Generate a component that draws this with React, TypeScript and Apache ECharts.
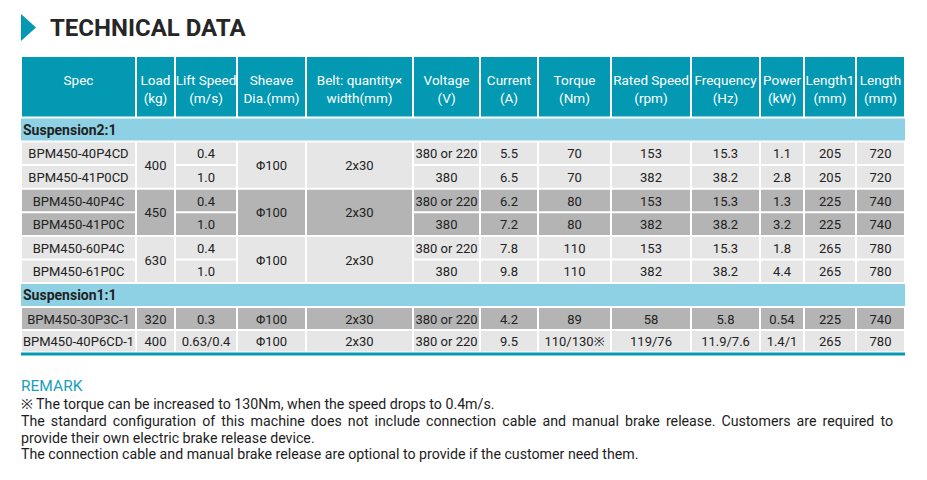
import React, { useEffect, useRef } from "react";
import * as echarts from "echarts";

const TITLE = "TECHNICAL DATA";
const headers = [
  "Spec",
  "Load\n(kg)",
  "Lift Speed\n(m/s)",
  "Sheave\nDia.(mm)",
  "Belt: quantity×\nwidth(mm)",
  "Voltage\n(V)",
  "Current\n(A)",
  "Torque\n(Nm)",
  "Rated Speed\n(rpm)",
  "Frequency\n(Hz)",
  "Power\n(kW)",
  "Length1\n(mm)",
  "Length\n(mm)",
];
const groups = ["Suspension2:1", "Suspension1:1"];
const specs = [
  "BPM450-40P4CD",
  "BPM450-41P0CD",
  "BPM450-40P4C",
  "BPM450-41P0C",
  "BPM450-60P4C",
  "BPM450-61P0C",
  "BPM450-30P3C-1",
  "BPM450-40P6CD-1",
];
const loads = ["400", "400", "450", "450", "630", "630", "320", "400"];
const liftSpeeds = ["0.4", "1.0", "0.4", "1.0", "0.4", "1.0", "0.3", "0.63/0.4"];
const sheaves = ["Φ100", "Φ100", "Φ100", "Φ100", "Φ100", "Φ100", "Φ100", "Φ100"];
const belts = ["2x30", "2x30", "2x30", "2x30", "2x30", "2x30", "2x30", "2x30"];
const voltages = ["380 or 220", "380", "380 or 220", "380", "380 or 220", "380", "380 or 220", "380 or 220"];
const currents = ["5.5", "6.5", "6.2", "7.2", "7.8", "9.8", "4.2", "9.5"];
const torques = ["70", "70", "80", "80", "110", "110", "89", "110/130※"];
const ratedSpeeds = ["153", "382", "153", "382", "153", "382", "58", "119/76"];
const frequencies = ["15.3", "38.2", "15.3", "38.2", "15.3", "38.2", "5.8", "11.9/7.6"];
const powers = ["1.1", "2.8", "1.3", "3.2", "1.8", "4.4", "0.54", "1.4/1"];
const length1s = ["205", "205", "225", "225", "265", "265", "225", "265"];
const lengths = ["720", "720", "740", "740", "780", "780", "740", "780"];
const rowShade = ["light", "light", "dark", "dark", "light", "light", "dark", "light"];
// columns (by index) whose cells are merged over row pairs
const mergedCols = [1, 3, 4];
const mergedPairs = [
  [0, 1],
  [2, 3],
  [4, 5],
];
const remarkTitle = "REMARK";
const remarkLines = [
  "※ The torque can be increased to 130Nm, when the speed drops to 0.4m/s.",
  "The standard configuration of this machine does not include connection cable and manual brake release. Customers are required to",
  "provide their own electric brake release device.",
  "The connection cable and manual brake release are optional to provide if the customer need them.",
];
// which remark lines are justified across the full width (paragraph wrap)
const remarkJustified = [false, true, false, false];

// layout
const colEdges = [21, 136, 175, 237, 306, 413, 480, 538, 611, 691, 760, 804, 856, 905];
const headerTop = 57;
const headerBottom = 117.5;
const groupTops = [117.5, 283];
const groupH = 24;
const rowTops = [141.5, 165, 188.7, 212.3, 236, 259.6, 307, 330];
const rowBottoms = [165, 188.7, 212.3, 236, 259.6, 283, 330, 352.5];
const remarkRight = 893;

const TEAL = "#0399b3";
const LIGHTBLUE = "#8fd1e4";
const LIGHT = "#e6e6e6";
const DARK = "#b4b4b4";
const TEXT = "#222";
const FONT = "Roboto, 'Noto Sans', sans-serif";
const REMARK_SIZE = 14.2;

function measure(text: string, size: number): number {
  const c = document.createElement("canvas").getContext("2d");
  if (!c) return text.length * size * 0.5;
  c.font = `${size}px ${FONT}`;
  return c.measureText(text).width;
}

function buildGraphics() {
  const els: any[] = [];
  const columns = [specs, loads, liftSpeeds, sheaves, belts, voltages, currents, torques, ratedSpeeds, frequencies, powers, length1s, lengths];
  // title
  els.push({
    type: "polygon",
    shape: { points: [[21, 14], [36, 27.5], [21, 41]] },
    style: { fill: TEAL },
  });
  els.push({
    type: "text",
    x: 50,
    y: 28,
    style: { text: TITLE, fontSize: 24, fontWeight: "bold", fontFamily: FONT, fill: "#262626", verticalAlign: "middle", align: "left" },
  });
  // header
  headers.forEach((h, c) => {
    const x0 = colEdges[c];
    const x1 = colEdges[c + 1];
    els.push({
      type: "rect",
      shape: { x: x0 + 1, y: headerTop, width: x1 - x0 - 2, height: headerBottom - headerTop - 1 },
      style: { fill: TEAL },
    });
    h.split("\n").forEach((line, li) => {
      els.push({
        type: "text",
        x: (x0 + x1) / 2,
        y: 80 + li * 18,
        style: { text: line, fontSize: 13.5, fontFamily: FONT, fill: "#fff", align: "center", verticalAlign: "middle" },
      });
    });
  });
  // group rows
  groups.forEach((g, gi) => {
    const y0 = groupTops[gi];
    els.push({
      type: "rect",
      shape: { x: colEdges[0], y: y0 + 1, width: colEdges[colEdges.length - 1] - colEdges[0], height: groupH - 2 },
      style: { fill: LIGHTBLUE },
    });
    els.push({
      type: "text",
      x: 23,
      y: y0 + groupH / 2,
      style: { text: g, fontSize: 14, fontWeight: "bold", fontFamily: FONT, fill: TEXT, align: "left", verticalAlign: "middle" },
    });
  });
  // data cells
  const isMergedSecond = (c: number, r: number) =>
    mergedCols.includes(c) && mergedPairs.some((p) => p[1] === r);
  const mergedEnd = (c: number, r: number) => {
    if (!mergedCols.includes(c)) return r;
    const p = mergedPairs.find((pp) => pp[0] === r);
    return p ? p[1] : r;
  };
  specs.forEach((_, r) => {
    columns.forEach((col, c) => {
      if (isMergedSecond(c, r)) return;
      const rEnd = mergedEnd(c, r);
      const x0 = colEdges[c];
      const x1 = colEdges[c + 1];
      const y0 = rowTops[r];
      const y1 = rowBottoms[rEnd];
      els.push({
        type: "rect",
        shape: { x: x0 + 1, y: y0 + 1, width: x1 - x0 - 2, height: y1 - y0 - 2 },
        style: { fill: rowShade[r] === "dark" ? DARK : LIGHT },
      });
      els.push({
        type: "text",
        x: (x0 + x1) / 2,
        y: (y0 + y1) / 2 + 0.5,
        style: { text: col[r], fontSize: 13, fontFamily: FONT, fill: TEXT, align: "center", verticalAlign: "middle" },
        z: 10,
      });
    });
  });
  // bottom rule
  els.push({
    type: "rect",
    shape: { x: colEdges[0], y: 352.5, width: colEdges[colEdges.length - 1] - colEdges[0], height: 3 },
    style: { fill: TEAL },
  });
  // remark
  els.push({
    type: "text",
    x: 21,
    y: 386,
    style: { text: remarkTitle, fontSize: 15.5, fontFamily: FONT, fill: "#1aa0ba", align: "left", verticalAlign: "middle" },
  });
  const lineYs = [403.8, 421, 437.8, 454.3];
  const remarkStyle = { fontSize: REMARK_SIZE, lineHeight: 14, fontFamily: FONT, fill: "#1d1d1d", align: "left", verticalAlign: "middle" };
  remarkLines.forEach((l, i) => {
    if (!remarkJustified[i]) {
      els.push({ type: "text", x: 21, y: lineYs[i], style: { ...remarkStyle, text: l } });
      return;
    }
    const words = l.split(" ");
    const widths = words.map((w) => measure(w, REMARK_SIZE));
    const total = widths.reduce((a, b) => a + b, 0);
    const gap = (remarkRight - 21 - total) / (words.length - 1);
    let x = 21;
    words.forEach((w, wi) => {
      els.push({ type: "text", x, y: lineYs[i], style: { ...remarkStyle, text: w } });
      x += widths[wi] + gap;
    });
  });
  return els;
}

export default function App() {
  const ref = useRef<HTMLDivElement>(null);
  useEffect(() => {
    if (!ref.current) return;
    const chart = echarts.init(ref.current, undefined, { renderer: "svg" });
    chart.setOption({
      animation: false,
      backgroundColor: "#fff",
      graphic: { elements: buildGraphics() },
    });
    return () => chart.dispose();
  }, []);
  return (
    <div
      ref={ref}
      style={{ position: "fixed", left: 0, top: 0, width: 927, height: 480 }}
    />
  );
}
